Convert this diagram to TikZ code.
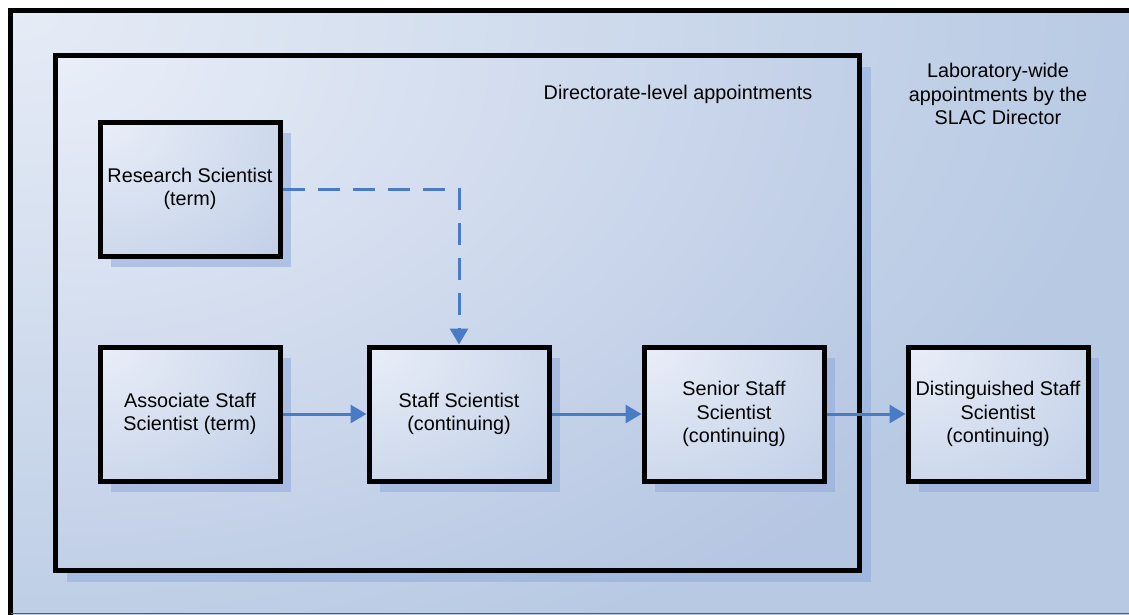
\documentclass[tikz,border=0pt]{standalone}
\usepackage{fontspec}
\setmainfont{Liberation Sans}
\usetikzlibrary{arrows.meta,shadows,positioning}
\definecolor{boxlight}{HTML}{E9EEF8}
\definecolor{boxdark}{HTML}{B5C6E2}
\definecolor{bglight}{HTML}{E6ECF6}
\definecolor{bgdark}{HTML}{B7C9E3}
\definecolor{shadowblue}{HTML}{8FAADA}
\definecolor{arrowblue}{HTML}{4A7CC5}
\tikzset{
  glow/.style n args={3}{fill=#1dark, path picture={
    \shade[inner color=#1light, outer color=#1dark]
      (path picture bounding box.north west) ellipse [x radius=#2, y radius=#3];}},
  rankbox/.style={draw=black, line width=5pt, glow={box}{330pt}{250pt}, minimum width=180pt,
    minimum height=134pt, align=center, inner sep=2pt,
    drop shadow={shadow xshift=11pt, shadow yshift=-11pt, fill=shadowblue, opacity=.55}},
  promote/.style={draw=arrowblue, line width=3pt, -{Triangle[length=16pt,width=18pt]}},
  areatext/.style={align=center}
}
\begin{document}
\begin{tikzpicture}[x=1pt,y=-1pt,font=\fontsize{19.8}{23.5}\selectfont]
\useasboundingbox (0,0) rectangle (1129,614);

% laboratory-wide area
\fill[white] (0,0) rectangle (1129,614);
\path[glow={bg}{1150pt}{720pt}] (10.5,10.5) rectangle (1160,640);
\draw[line width=5pt] (1160,10.5) -- (10.5,10.5) -- (10.5,640);
\draw[gray!70!black, line width=1pt] (10.5,613.5) -- (1129,613.5);

% directorate-level area
\node (dir) at (457.5,313) [draw=black, line width=5pt, glow={box}{1050pt}{680pt},
  minimum width=804pt, minimum height=515pt,
  drop shadow={shadow xshift=11pt, shadow yshift=-11pt, fill=shadowblue, opacity=.55}] {};

\node (dirlbl) at (678,94) [areatext] {Directorate-level appointments};
\node (labl) at (998,94) [areatext] {Laboratory-wide\\appointments by the\\SLAC Director};

\node (rs) at (190,189) [rankbox] {Research Scientist\\(term)};
\node (ass) at (190,414) [rankbox] {Associate Staff\\Scientist (term)};
\node (ss) at (459,414) [rankbox] {Staff Scientist\\(continuing)};
\node (sss) at (734,414) [rankbox] {Senior Staff\\Scientist\\(continuing)};
\node (dss) at (998,414) [rankbox] {Distinguished Staff\\Scientist\\(continuing)};

\draw[promote, dash pattern=on 22pt off 13pt] (rs.east) -| (ss.north);
\draw[promote] (ass) -- (ss);
\draw[promote] (ss) -- (sss);
\draw[promote] (sss) -- (dss);
\end{tikzpicture}
\end{document}
